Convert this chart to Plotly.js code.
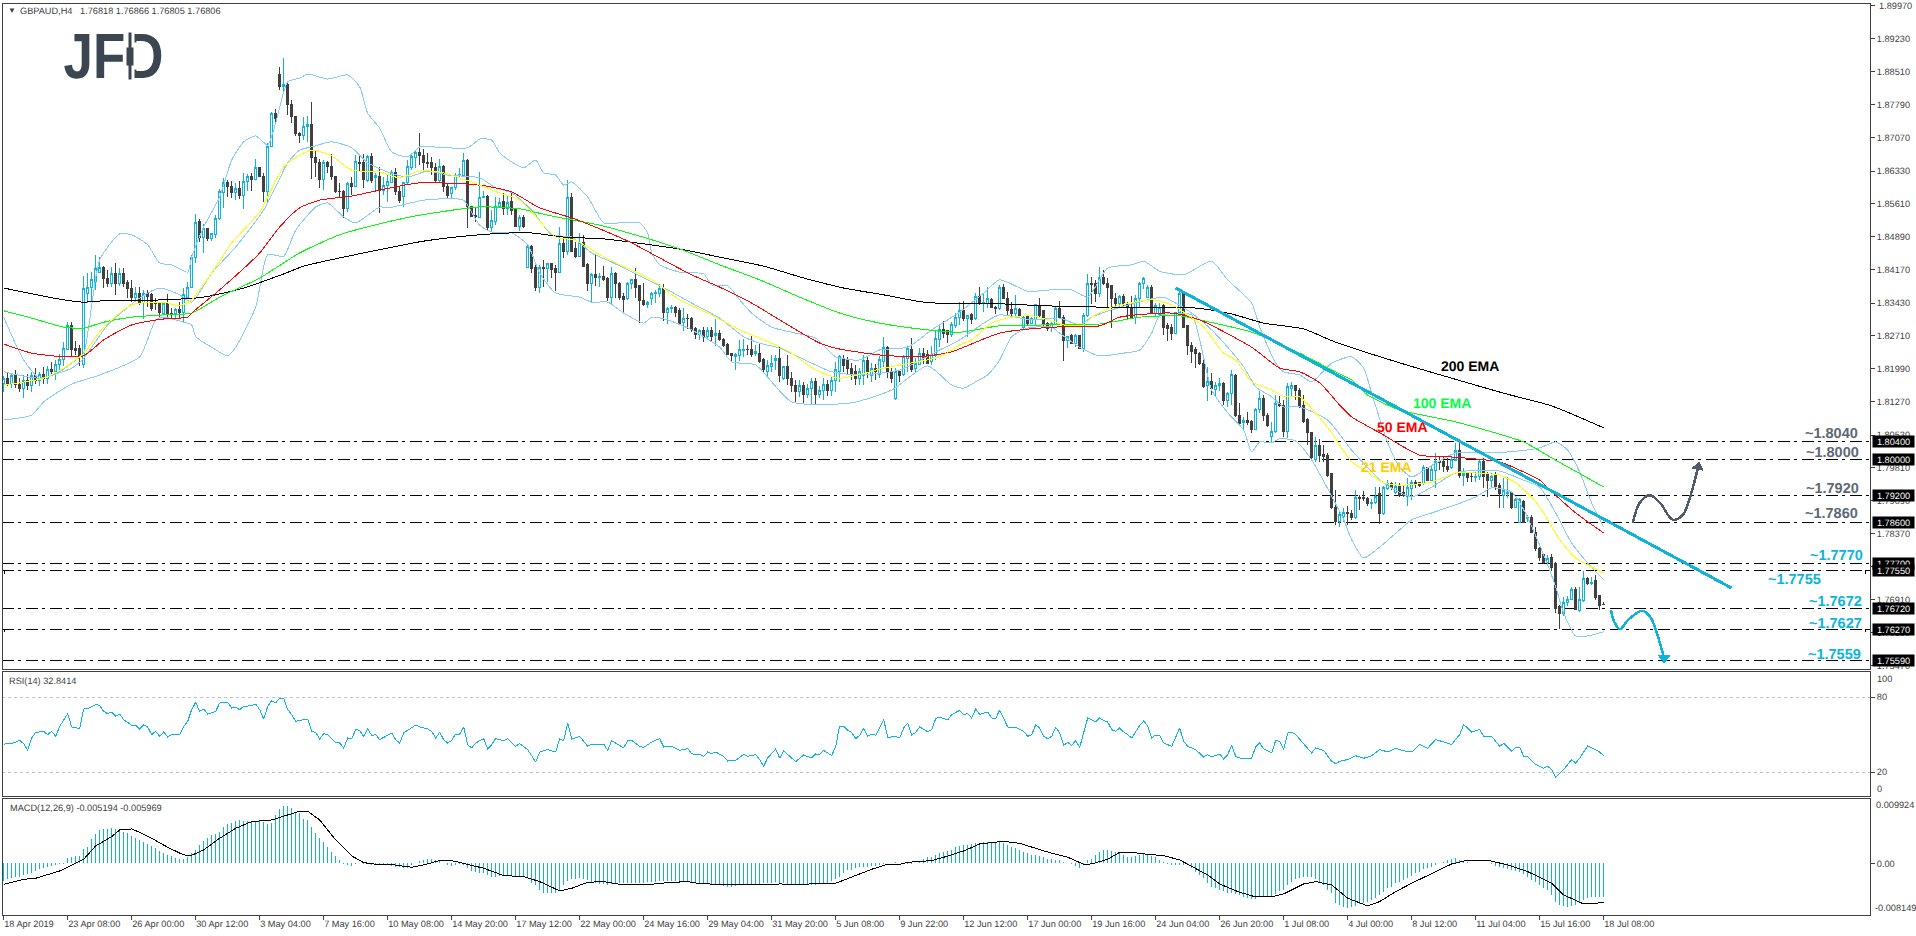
<!DOCTYPE html>
<html><head><meta charset="utf-8">
<script src="https://cdn.plot.ly/plotly-3.0.1.min.js"></script>
<style>html,body{margin:0;padding:0;background:#fff;overflow:hidden}
#chart .cartesianlayer path,#chart .shapelayer path{shape-rendering:crispEdges}
#chart text{text-rendering:geometricPrecision}</style>
</head><body><div id="chart" style="width:1916px;height:936px"></div>
<script>
const open_=[1.8167,1.8178,1.8167,1.8183,1.8165,1.8156,1.8174,1.8161,1.8183,1.8174,1.8187,1.8178,1.8196,1.8192,1.8209,1.8218,1.8242,1.8293,1.8244,1.8244,
1.8207,1.8363,1.8378,1.8391,1.8411,1.8422,1.8398,1.8387,1.8407,1.8385,1.8407,1.8389,1.8374,1.8356,1.8363,1.8345,1.8365,1.8361,1.8345,1.8343,
1.8321,1.8341,1.8321,1.8319,1.8328,1.8323,1.8356,1.8378,1.8444,1.8523,1.8488,1.8506,1.8484,1.8493,1.8528,1.8585,1.8607,1.8598,1.8585,1.8594,
1.8580,1.8609,1.8620,1.8615,1.8640,1.8620,1.8587,1.8686,1.8760,1.8844,1.8818,1.8824,1.8780,1.8752,1.8716,1.8710,1.8730,1.8736,1.8662,1.8651,
1.8615,1.8651,1.8642,1.8620,1.8589,1.8589,1.8550,1.8605,1.8600,1.8651,1.8651,1.8613,1.8664,1.8618,1.8622,1.8591,1.8602,1.8607,1.8629,1.8589,
1.8578,1.8607,1.8640,1.8662,1.8673,1.8668,1.8651,1.8651,1.8640,1.8613,1.8644,1.8600,1.8583,1.8596,1.8624,1.8624,1.8657,1.8554,1.8536,1.8532,
1.8574,1.8578,1.8510,1.8523,1.8554,1.8565,1.8550,1.8565,1.8550,1.8512,1.8532,1.8422,1.8468,1.8422,1.8378,1.8422,1.8418,1.8429,1.8418,1.8411,
1.8473,1.8457,1.8574,1.8462,1.8446,1.8477,1.8427,1.8385,1.8405,1.8400,1.8402,1.8396,1.8356,1.8409,1.8387,1.8358,1.8352,1.8385,1.8394,1.8381,
1.8348,1.8339,1.8354,1.8363,1.8365,1.8376,1.8323,1.8330,1.8334,1.8326,1.8301,1.8310,1.8310,1.8288,1.8275,1.8282,1.8269,1.8282,1.8271,1.8277,
1.8262,1.8251,1.8233,1.8225,1.8227,1.8238,1.8242,1.8242,1.8233,1.8233,1.8218,1.8192,1.8203,1.8216,1.8222,1.8178,1.8203,1.8178,1.8163,1.8148,
1.8161,1.8143,1.8156,1.8170,1.8143,1.8152,1.8165,1.8152,1.8174,1.8192,1.8222,1.8218,1.8200,1.8192,1.8178,1.8185,1.8216,1.8183,1.8200,1.8187,
1.8214,1.8246,1.8192,1.8134,1.8192,1.8187,1.8222,1.8242,1.8200,1.8209,1.8233,1.8231,1.8214,1.8227,1.8264,1.8284,1.8282,1.8273,1.8293,1.8312,
1.8326,1.8310,1.8317,1.8308,1.8358,1.8341,1.8343,1.8350,1.8334,1.8332,1.8378,1.8354,1.8328,1.8321,1.8328,1.8290,1.8315,1.8299,1.8306,1.8337,
1.8326,1.8299,1.8290,1.8297,1.8332,1.8312,1.8260,1.8271,1.8255,1.8271,1.8244,1.8315,1.8387,1.8385,1.8365,1.8400,1.8387,1.8381,1.8354,1.8341,
1.8358,1.8343,1.8334,1.8312,1.8352,1.8387,1.8356,1.8378,1.8321,1.8317,1.8337,1.8293,1.8290,1.8277,1.8323,1.8365,1.8293,1.8249,1.8240,1.8233,
1.8211,1.8161,1.8170,1.8154,1.8163,1.8167,1.8128,1.8145,1.8185,1.8095,1.8080,1.8084,1.8082,1.8066,1.8110,1.8134,1.8097,1.8049,1.8060,1.8123,
1.8119,1.8060,1.8156,1.8161,1.8152,1.8117,1.8088,1.8058,1.8000,1.8031,1.8011,1.8009,1.7968,1.7893,1.7864,1.7875,1.7882,1.7880,1.7871,1.7917,
1.7915,1.7913,1.7902,1.7904,1.7924,1.7880,1.7935,1.7946,1.7928,1.7941,1.7926,1.7919,1.7935,1.7948,1.7948,1.7946,1.7981,1.7954,1.7976,1.7994,
1.7994,1.7985,1.7981,1.7998,1.8020,1.7965,1.7968,1.7963,1.7959,1.7961,1.7994,1.7968,1.7954,1.7965,1.7943,1.7921,1.7924,1.7926,1.7895,1.7862,
1.7908,1.7869,1.7871,1.7840,1.7803,1.7790,1.7774,1.7785,1.7770,1.7676,1.7662,1.7686,1.7693,1.7715,1.7667,1.7689,1.7737,1.7726,1.7733,1.7700,
1.76818];
const close_=[1.8178,1.8167,1.8183,1.8165,1.8156,1.8174,1.8161,1.8183,1.8174,1.8187,1.8178,1.8196,1.8192,1.8209,1.8218,1.8244,1.8293,1.8240,1.8238,1.8227,
1.8374,1.8378,1.8394,1.8418,1.8422,1.8398,1.8385,1.8407,1.8385,1.8407,1.8387,1.8374,1.8356,1.8363,1.8345,1.8365,1.8358,1.8330,1.8341,1.8323,
1.8341,1.8321,1.8319,1.8328,1.8323,1.8361,1.8378,1.8444,1.8521,1.8488,1.8506,1.8484,1.8495,1.8528,1.8587,1.8607,1.8598,1.8585,1.8594,1.8580,
1.8609,1.8620,1.8615,1.8640,1.8620,1.8587,1.8686,1.8760,1.8749,1.8818,1.8824,1.8778,1.8752,1.8716,1.8710,1.8730,1.8736,1.8662,1.8651,1.8615,
1.8651,1.8642,1.8620,1.8587,1.8587,1.8550,1.8605,1.8600,1.8653,1.8649,1.8615,1.8664,1.8613,1.8624,1.8591,1.8602,1.8609,1.8629,1.8589,1.8569,
1.8607,1.8642,1.8664,1.8673,1.8666,1.8651,1.8649,1.8640,1.8613,1.8644,1.8600,1.8580,1.8596,1.8624,1.8626,1.8657,1.8554,1.8534,1.8534,1.8574,
1.8578,1.8510,1.8525,1.8556,1.8563,1.8550,1.8563,1.8547,1.8512,1.8532,1.8512,1.8468,1.8420,1.8378,1.8422,1.8418,1.8429,1.8416,1.8411,1.8473,
1.8457,1.8574,1.8457,1.8446,1.8477,1.8424,1.8385,1.8405,1.8400,1.8402,1.8394,1.8356,1.8409,1.8387,1.8356,1.8350,1.8387,1.8394,1.8378,1.8348,
1.8339,1.8345,1.8363,1.8367,1.8376,1.8323,1.8332,1.8334,1.8323,1.8299,1.8310,1.8308,1.8286,1.8275,1.8282,1.8269,1.8282,1.8269,1.8277,1.8262,
1.8249,1.8231,1.8227,1.8231,1.8240,1.8242,1.8240,1.8231,1.8236,1.8214,1.8196,1.8205,1.8211,1.8222,1.8183,1.8203,1.8178,1.8163,1.8148,1.8161,
1.8143,1.8156,1.8170,1.8143,1.8152,1.8165,1.8152,1.8174,1.8196,1.8225,1.8205,1.8200,1.8187,1.8178,1.8192,1.8216,1.8192,1.8200,1.8192,1.8218,
1.8246,1.8192,1.8178,1.8192,1.8183,1.8225,1.8244,1.8196,1.8211,1.8233,1.8222,1.8211,1.8229,1.8266,1.8284,1.8277,1.8273,1.8295,1.8312,1.8326,
1.8310,1.8315,1.8306,1.8358,1.8341,1.8345,1.8352,1.8334,1.8332,1.8378,1.8354,1.8326,1.8321,1.8330,1.8315,1.8312,1.8299,1.8308,1.8339,1.8315,
1.8297,1.8288,1.8299,1.8332,1.8312,1.8260,1.8269,1.8255,1.8271,1.8244,1.8315,1.8387,1.8383,1.8365,1.8400,1.8385,1.8378,1.8354,1.8341,1.8358,
1.8341,1.8334,1.8312,1.8354,1.8387,1.8398,1.8378,1.8321,1.8337,1.8334,1.8290,1.8288,1.8277,1.8323,1.8365,1.8290,1.8249,1.8236,1.8233,1.8211,
1.8159,1.8170,1.8156,1.8163,1.8167,1.8128,1.8145,1.8187,1.8095,1.8078,1.8084,1.8080,1.8066,1.8110,1.8134,1.8095,1.8073,1.8060,1.8123,1.8117,
1.8060,1.8159,1.8161,1.8150,1.8115,1.8082,1.8058,1.8003,1.8031,1.8009,1.8007,1.7965,1.7893,1.7864,1.7878,1.7882,1.7880,1.7873,1.7917,1.7913,
1.7913,1.7902,1.7906,1.7919,1.7880,1.7937,1.7946,1.7939,1.7941,1.7921,1.7921,1.7939,1.7950,1.7946,1.7943,1.7981,1.7954,1.7978,1.7994,1.7992,
1.7983,1.7978,1.8000,1.8020,1.7965,1.7968,1.7959,1.7961,1.7961,1.7994,1.7961,1.7954,1.7963,1.7941,1.7924,1.7932,1.7926,1.7893,1.7911,1.7911,
1.7862,1.7871,1.7840,1.7803,1.7785,1.7774,1.7783,1.7763,1.7673,1.7662,1.7686,1.7693,1.7715,1.7671,1.7691,1.7737,1.7728,1.7730,1.7697,1.7678,
1.76806];
const high_=[1.8183,1.8192,1.8187,1.8196,1.8178,1.8185,1.8187,1.8192,1.8200,1.8192,1.8203,1.8205,1.8214,1.8218,1.8231,1.8257,1.8301,1.8301,1.8260,1.8251,
1.8402,1.8409,1.8411,1.8449,1.8444,1.8424,1.8416,1.8422,1.8431,1.8420,1.8420,1.8394,1.8394,1.8378,1.8378,1.8372,1.8372,1.8365,1.8354,1.8345,
1.8345,1.8363,1.8332,1.8332,1.8345,1.8376,1.8389,1.8449,1.8539,1.8528,1.8517,1.8508,1.8497,1.8536,1.8594,1.8618,1.8613,1.8611,1.8607,1.8611,
1.8629,1.8627,1.8629,1.8659,1.8640,1.8629,1.8695,1.8763,1.8769,1.8861,1.8881,1.8826,1.8789,1.8754,1.8719,1.8752,1.8754,1.8785,1.8679,1.8659,
1.8657,1.8655,1.8670,1.8622,1.8607,1.8591,1.8609,1.8620,1.8668,1.8670,1.8670,1.8668,1.8673,1.8629,1.8642,1.8620,1.8624,1.8635,1.8640,1.8598,
1.8609,1.8657,1.8673,1.8679,1.8716,1.8681,1.8673,1.8664,1.8651,1.8659,1.8646,1.8607,1.8598,1.8629,1.8640,1.8673,1.8659,1.8556,1.8552,1.8631,
1.8589,1.8580,1.8547,1.8576,1.8574,1.8585,1.8580,1.8587,1.8550,1.8536,1.8536,1.8471,1.8471,1.8427,1.8427,1.8438,1.8431,1.8431,1.8427,1.8510,
1.8488,1.8613,1.8585,1.8477,1.8497,1.8492,1.8431,1.8409,1.8449,1.8409,1.8425,1.8400,1.8422,1.8411,1.8389,1.8365,1.8389,1.8396,1.8420,1.8383,
1.8387,1.8347,1.8367,1.8372,1.8385,1.8385,1.8334,1.8339,1.8336,1.8332,1.8332,1.8319,1.8312,1.8290,1.8286,1.8290,1.8290,1.8290,1.8308,1.8284,
1.8266,1.8255,1.8233,1.8233,1.8262,1.8264,1.8251,1.8271,1.8251,1.8255,1.8222,1.8218,1.8229,1.8229,1.8247,1.8205,1.8229,1.8192,1.8174,1.8174,
1.8170,1.8165,1.8178,1.8178,1.8161,1.8178,1.8174,1.8183,1.8214,1.8229,1.8229,1.8225,1.8211,1.8207,1.8200,1.8229,1.8225,1.8211,1.8209,1.8227,
1.8269,1.8249,1.8200,1.8200,1.8196,1.8229,1.8249,1.8266,1.8222,1.8244,1.8244,1.8240,1.8249,1.8284,1.8295,1.8304,1.8284,1.8301,1.8321,1.8345,
1.8348,1.8317,1.8321,1.8365,1.8378,1.8365,1.8378,1.8354,1.8336,1.8383,1.8385,1.8367,1.8345,1.8361,1.8332,1.8317,1.8317,1.8312,1.8341,1.8354,
1.8328,1.8301,1.8301,1.8336,1.8348,1.8317,1.8269,1.8275,1.8275,1.8273,1.8321,1.8407,1.8400,1.8394,1.8422,1.8416,1.8398,1.8383,1.8365,1.8361,
1.8363,1.8345,1.8358,1.8361,1.8389,1.8400,1.8383,1.8383,1.8343,1.8343,1.8341,1.8299,1.8297,1.8323,1.8367,1.8367,1.8295,1.8257,1.8246,1.8235,
1.8218,1.8203,1.8189,1.8170,1.8178,1.8170,1.8148,1.8196,1.8187,1.8123,1.8093,1.8104,1.8086,1.8112,1.8150,1.8141,1.8101,1.8082,1.8141,1.8139,
1.8130,1.8167,1.8170,1.8163,1.8156,1.8141,1.8091,1.8060,1.8049,1.8045,1.8031,1.8014,1.7970,1.7932,1.7884,1.7893,1.7897,1.7888,1.7932,1.7921,
1.7930,1.7917,1.7913,1.7939,1.7939,1.7941,1.7954,1.7950,1.7950,1.7948,1.7943,1.7959,1.7954,1.7954,1.7950,1.7987,1.7983,1.7985,1.8014,1.8005,
1.8005,1.8003,1.8005,1.8036,1.8038,1.7981,1.7972,1.7970,1.7972,1.7998,1.8003,1.7972,1.7970,1.7972,1.7948,1.7959,1.7961,1.7926,1.7915,1.7915,
1.7911,1.7878,1.7878,1.7851,1.7807,1.7794,1.7790,1.7792,1.7774,1.7680,1.7697,1.7699,1.7719,1.7719,1.7719,1.7754,1.7741,1.7741,1.7746,1.7702,
1.76866];
const low_=[1.8148,1.8161,1.8156,1.8156,1.8148,1.8134,1.8152,1.8148,1.8165,1.8161,1.8165,1.8165,1.8183,1.8174,1.8192,1.8205,1.8242,1.8227,1.8229,1.8205,
1.8200,1.8343,1.8345,1.8372,1.8411,1.8376,1.8378,1.8378,1.8361,1.8380,1.8378,1.8354,1.8345,1.8350,1.8339,1.8308,1.8334,1.8326,1.8328,1.8312,
1.8317,1.8312,1.8310,1.8306,1.8310,1.8299,1.8354,1.8376,1.8431,1.8477,1.8453,1.8480,1.8480,1.8486,1.8525,1.8552,1.8576,1.8574,1.8569,1.8572,
1.8550,1.8589,1.8589,1.8613,1.8620,1.8565,1.8563,1.8686,1.8734,1.8811,1.8807,1.8756,1.8739,1.8710,1.8695,1.8701,1.8697,1.8615,1.8620,1.8596,
1.8591,1.8629,1.8613,1.8585,1.8576,1.8530,1.8543,1.8580,1.8598,1.8631,1.8596,1.8609,1.8607,1.8591,1.8541,1.8580,1.8565,1.8607,1.8580,1.8563,
1.8554,1.8602,1.8635,1.8640,1.8646,1.8635,1.8640,1.8624,1.8609,1.8609,1.8587,1.8572,1.8572,1.8591,1.8620,1.8620,1.8508,1.8532,1.8521,1.8532,
1.8574,1.8501,1.8501,1.8514,1.8552,1.8536,1.8536,1.8536,1.8510,1.8501,1.8508,1.8420,1.8409,1.8369,1.8365,1.8378,1.8389,1.8398,1.8369,1.8409,
1.8442,1.8449,1.8455,1.8442,1.8444,1.8422,1.8369,1.8343,1.8381,1.8378,1.8391,1.8347,1.8341,1.8354,1.8350,1.8323,1.8350,1.8374,1.8354,1.8299,
1.8336,1.8332,1.8339,1.8343,1.8356,1.8304,1.8297,1.8321,1.8312,1.8297,1.8282,1.8286,1.8280,1.8264,1.8262,1.8258,1.8262,1.8258,1.8249,1.8260,
1.8247,1.8229,1.8214,1.8196,1.8216,1.8225,1.8229,1.8225,1.8227,1.8211,1.8192,1.8178,1.8192,1.8196,1.8170,1.8174,1.8163,1.8148,1.8126,1.8137,
1.8121,1.8134,1.8119,1.8121,1.8134,1.8130,1.8139,1.8139,1.8148,1.8170,1.8192,1.8185,1.8174,1.8163,1.8163,1.8163,1.8178,1.8170,1.8174,1.8178,
1.8203,1.8178,1.8167,1.8130,1.8170,1.8183,1.8192,1.8192,1.8192,1.8207,1.8209,1.8209,1.8207,1.8218,1.8246,1.8266,1.8255,1.8268,1.8288,1.8295,
1.8304,1.8268,1.8297,1.8306,1.8339,1.8323,1.8332,1.8332,1.8319,1.8328,1.8352,1.8315,1.8312,1.8312,1.8312,1.8286,1.8295,1.8297,1.8293,1.8312,
1.8290,1.8281,1.8279,1.8295,1.8308,1.8216,1.8244,1.8253,1.8246,1.8242,1.8235,1.8312,1.8341,1.8345,1.8356,1.8382,1.8334,1.8288,1.8332,1.8334,
1.8332,1.8306,1.8310,1.8297,1.8332,1.8374,1.8354,1.8319,1.8312,1.8312,1.8273,1.8260,1.8262,1.8275,1.8317,1.8288,1.8229,1.8211,1.8200,1.8207,
1.8156,1.8128,1.8141,1.8139,1.8150,1.8119,1.8115,1.8119,1.8093,1.8075,1.8066,1.8075,1.8058,1.8064,1.8101,1.8084,1.8071,1.8036,1.8058,1.8115,
1.8049,1.8047,1.8137,1.8130,1.8113,1.8080,1.8031,1.7998,1.7994,1.7994,1.7994,1.7961,1.7891,1.7856,1.7851,1.7862,1.7856,1.7866,1.7869,1.7888,
1.7908,1.7897,1.7891,1.7902,1.7858,1.7878,1.7932,1.7932,1.7924,1.7917,1.7917,1.7897,1.7911,1.7937,1.7939,1.7943,1.7952,1.7952,1.7937,1.7976,
1.7972,1.7972,1.7978,1.8000,1.7959,1.7941,1.7950,1.7950,1.7950,1.7954,1.7937,1.7917,1.7939,1.7932,1.7893,1.7893,1.7915,1.7891,1.7893,1.7862,
1.7860,1.7862,1.7838,1.7798,1.7777,1.7770,1.7765,1.7754,1.7662,1.7627,1.7655,1.7677,1.7691,1.7669,1.7664,1.7686,1.7724,1.7724,1.7691,1.7669,
1.76805];

const ema200X=[0,15,20,25,40,50,60,70,75,85,95,105,119,127,132,140,150,160,170,180,190,200,210,220,230,240,250,260,275,290,298,307,315,325,333,350,362,375,387,400];
const ema200=[1.8376,1.8350,1.8345,1.8348,1.8350,1.8356,1.8376,1.8407,1.8424,1.8444,1.8462,1.8479,1.8493,1.8497,1.8497,1.8488,1.8484,1.8473,1.8460,1.8442,1.8424,1.8398,1.8376,1.8361,1.8345,1.8341,1.8341,1.8337,1.8334,1.8334,1.8332,1.8319,1.8299,1.8286,1.8257,1.8209,1.8178,1.8145,1.8117,1.8069];
const ema100X=[0,7,15,20,25,32,40,47,54,64,74,84,94,104,119,129,136,149,159,169,179,189,199,209,219,229,239,249,262,274,284,294,299,312,324,332,337,341,349,362,374,380,388,400];
const ema100=[1.8326,1.8310,1.8290,1.8288,1.8301,1.8312,1.8317,1.8321,1.8356,1.8398,1.8453,1.8493,1.8517,1.8536,1.8554,1.8550,1.8536,1.8514,1.8490,1.8462,1.8427,1.8394,1.8356,1.8321,1.8299,1.8286,1.8279,1.8293,1.8295,1.8297,1.8312,1.8315,1.8306,1.8279,1.8233,1.8196,1.8174,1.8141,1.8108,1.8084,1.8055,1.8038,1.7998,1.7939];
const ema50X=[0,7,15,20,25,32,40,46,47,54,64,69,74,79,87,94,104,119,127,134,142,149,157,164,172,179,187,194,204,209,219,229,237,249,262,274,279,292,299,312,319,324,329,334,337,344,354,362,374,380,384,388,393,400];
const ema50=[1.8253,1.8233,1.8225,1.8227,1.8262,1.8295,1.8308,1.8312,1.8321,1.8372,1.8453,1.8510,1.8552,1.8569,1.8578,1.8591,1.8607,1.8602,1.8587,1.8552,1.8530,1.8506,1.8475,1.8442,1.8405,1.8378,1.8343,1.8306,1.8255,1.8242,1.8229,1.8225,1.8236,1.8277,1.8290,1.8293,1.8312,1.8321,1.8306,1.8246,1.8200,1.8192,1.8168,1.8119,1.8093,1.8058,1.8009,1.8005,1.7994,1.7972,1.7954,1.7921,1.7882,1.7838];
const ema21X=[0,10,15,20,25,32,40,44,47,53,57,64,70,74,77,82,87,94,99,104,109,117,119,124,129,132,138,143,149,154,162,169,177,184,192,197,203,209,220,234,239,242,247,252,257,262,265,270,272,277,287,292,295,300,305,308,312,317,320,324,329,332,337,341,345,349,357,363,367,374,378,382,385,389,393,397,400];
const ema21=[1.8163,1.8178,1.8200,1.8233,1.8290,1.8339,1.8345,1.8337,1.8350,1.8422,1.8475,1.8543,1.8642,1.8668,1.8679,1.8666,1.8635,1.8631,1.8618,1.8633,1.8631,1.8609,1.8602,1.8585,1.8569,1.8543,1.8488,1.8481,1.8449,1.8427,1.8394,1.8350,1.8317,1.8284,1.8255,1.8233,1.8196,1.8178,1.8200,1.8225,1.8251,1.8262,1.8299,1.8312,1.8315,1.8304,1.8295,1.8295,1.8312,1.8334,1.8350,1.8339,1.8323,1.8290,1.8233,1.8218,1.8170,1.8152,1.8137,1.8137,1.8091,1.8058,1.7994,1.7972,1.7948,1.7943,1.7950,1.7970,1.7970,1.7965,1.7948,1.7917,1.7882,1.7823,1.7783,1.7763,1.7750];

const bbUpperX=[0,5,9,14,18,20,24,29,32,36,39,42,46,47,50,54,57,60,63,66,68,71,74,76,81,86,89,91,94,97,101,104,107,116,119,122,124,127,130,133,135,138,140,142,146,150,154,159,161,162,164,169,175,177,181,184,187,192,198,203,208,214,219,226,232,239,245,249,256,262,267,271,276,282,285,289,295,302,306,312,314,318,320,324,327,332,337,340,342,346,349,352,356,363,369,376,384,388,391,394,397,400];
const bbUpper=[1.8312,1.8218,1.8178,1.8192,1.8218,1.8233,1.8438,1.8495,1.8493,1.8471,1.8431,1.8427,1.8411,1.8444,1.8510,1.8576,1.8657,1.8697,1.8710,1.8690,1.8738,1.8829,1.8837,1.8846,1.8835,1.8844,1.8818,1.8760,1.8727,1.8675,1.8664,1.8686,1.8686,1.8684,1.8703,1.8701,1.8673,1.8653,1.8640,1.8657,1.8629,1.8624,1.8602,1.8609,1.8576,1.8519,1.8519,1.8519,1.8497,1.8453,1.8427,1.8411,1.8407,1.8383,1.8381,1.8350,1.8321,1.8290,1.8277,1.8266,1.8225,1.8218,1.8240,1.8246,1.8284,1.8323,1.8365,1.8394,1.8369,1.8372,1.8372,1.8356,1.8420,1.8427,1.8435,1.8413,1.8405,1.8435,1.8394,1.8343,1.8290,1.8211,1.8192,1.8185,1.8170,1.8211,1.8225,1.8200,1.8145,1.8036,1.7983,1.7961,1.7981,1.8014,1.8014,1.8016,1.8025,1.8038,1.8020,1.7972,1.7904,1.7851];
const bbMiddleX=[0,9,17,20,26,34,39,44,47,52,58,65,68,71,74,77,82,87,91,96,101,106,111,119,123,127,132,137,142,147,152,161,166,172,179,185,189,194,202,207,214,224,234,239,245,249,257,264,269,272,277,286,290,293,297,302,306,310,313,317,320,324,331,337,345,352,357,363,369,374,380,384,388,392,396,400];
const bbMiddle=[1.8192,1.8178,1.8200,1.8222,1.8295,1.8354,1.8376,1.8361,1.8345,1.8409,1.8466,1.8547,1.8598,1.8651,1.8679,1.8686,1.8697,1.8684,1.8651,1.8631,1.8620,1.8633,1.8624,1.8618,1.8596,1.8585,1.8547,1.8493,1.8488,1.8453,1.8433,1.8394,1.8372,1.8343,1.8310,1.8269,1.8255,1.8244,1.8211,1.8192,1.8185,1.8196,1.8240,1.8262,1.8299,1.8317,1.8306,1.8310,1.8295,1.8312,1.8328,1.8350,1.8356,1.8343,1.8321,1.8284,1.8246,1.8203,1.8159,1.8137,1.8115,1.8115,1.8086,1.8020,1.7948,1.7917,1.7939,1.7970,1.7976,1.7974,1.7954,1.7939,1.7882,1.7816,1.7772,1.7735];
const bbLowerX=[0,7,10,17,24,34,38,40,45,47,48,52,56,58,63,66,70,73,78,81,85,88,94,96,105,111,115,119,122,127,131,134,138,144,147,151,155,160,162,166,172,179,182,188,197,212,222,231,237,240,243,246,249,252,256,262,264,269,274,280,284,287,289,297,299,302,306,310,312,314,317,319,323,327,335,337,340,344,349,352,357,363,368,372,377,380,385,388,390,393,396,400];
const bbLower=[1.8086,1.8097,1.8126,1.8165,1.8185,1.8225,1.8306,1.8312,1.8301,1.8295,1.8269,1.8246,1.8227,1.8246,1.8334,1.8449,1.8446,1.8503,1.8554,1.8563,1.8532,1.8519,1.8554,1.8552,1.8569,1.8572,1.8569,1.8514,1.8499,1.8497,1.8471,1.8409,1.8365,1.8356,1.8345,1.8345,1.8321,1.8299,1.8312,1.8306,1.8284,1.8246,1.8214,1.8207,1.8126,1.8124,1.8152,1.8205,1.8163,1.8156,1.8170,1.8185,1.8218,1.8269,1.8288,1.8290,1.8277,1.8246,1.8227,1.8233,1.8240,1.8277,1.8315,1.8317,1.8262,1.8152,1.8102,1.8064,1.8016,1.8038,1.8036,1.8045,1.8040,1.7998,1.7867,1.7823,1.7783,1.7807,1.7845,1.7867,1.7882,1.7900,1.7917,1.7937,1.7928,1.7889,1.7790,1.7720,1.7662,1.7612,1.7612,1.7621];

const rsiX=[0,1,2,4,5,6,7,8,10,11,12,13,14,16,17,19,20,21,23,24,25,26,27,28,29,30,32,33,34,35,36,37,38,39,40,41,42,44,45,46,47,48,49,50,51,53,54,56,57,58,59,60,62,63,64,65,66,67,68,69,70,71,72,73,75,76,77,78,79,80,81,83,84,85,86,87,88,89,90,91,92,93,94,95,97,98,99,100,102,103,104,106,107,108,109,110,111,112,113,114,115,116,117,118,120,121,122,123,125,126,128,129,131,133,134,136,138,139,140,141,142,144,146,147,150,151,152,153,155,156,157,159,
160,162,164,165,166,167,169,171,172,173,174,175,176,177,178,180,181,183,185,186,188,189,190,191,193,194,195,197,198,200,202,203,204,205,207,208,209,210,211,212,213,214,215,216,217,218,220,221,223,224,225,226,227,228,229,231,232,233,234,236,237,239,240,241,242,243,244,246,247,248,249,251,253,255,256,257,258,259,260,261,262,263,264,265,266,267,268,269,271,273,274,275,276,277,278,279,280,281,282,284,285,286,287,288,289,290,292,294,295,296,298,300,301,302,304,305,306,307,308,309,312,313,314,315,317,318,319,320,321,322,323,327,328,330,332,333,334,
336,338,340,342,344,346,348,350,352,354,356,358,360,362,364,365,367,369,370,372,374,375,377,378,379,380,381,383,385,386,387,388,390,392,393,394,396,398,399,400];
const rsi=[41.9,43.2,42.7,45.3,42.7,37.3,47.2,51.7,52.5,49.9,52.5,48.5,56.5,66.7,56,54.7,70.4,70.7,73.9,73.3,68.5,66.7,68,64.5,66.4,61.9,57.3,57.6,54.4,57.9,56,49.9,52.5,48.5,52,48,49.9,49.9,56.5,60.5,69.9,75.7,68.5,70.4,66.4,68.5,75.2,75.7,71.2,71.7,69.9,72.5,73.1,74.4,69.9,62.4,72.5,77.1,75.2,79.2,79.2,69.9,65.9,60.5,61.9,62.4,52.5,51.7,46.4,50.7,49.9,43.7,43.2,39.2,47.2,46.4,53.9,53.3,48.5,54.4,49.3,49.9,45.9,47.7,51.2,45.9,43.2,51.2,55.7,57.6,56,54.4,52.5,47.2,51.7,45.9,43.2,45.3,50.4,50.4,56,41.9,39.2,43.2,46.7,38.4,41.9,46.7,45.1,46.7,40.5,42.7,37.9,28,36,37.9,36,46.4,45.1,59.2,46.4,48.5,40.5,42.4,42.4,37.3,45.1,43.2,39.2,45.1,45.3,40.5,
39.7,44,46.7,40,40.8,40.5,37.3,38.7,34.7,33.9,34.4,32.5,36,34.7,36,32.5,28.8,29.3,34.1,32.5,33.9,29.9,24.5,31.2,38.4,31.2,36.8,31.2,28.3,33.6,31.2,34.4,33.9,37.3,33.1,40.5,56.8,56.8,53.3,51.7,46.7,49.3,54.9,48.5,50.4,49.3,61.9,47.7,48.5,47.2,55.2,59.2,49.6,51.7,56,52.3,53.9,62.7,64,61.6,65.9,69.3,65.9,66.7,63.2,70.4,66.1,68,63.2,62.7,69.6,56,55.7,52.5,48.5,49.9,57.6,55.2,48.5,46.7,48.5,55.7,51.2,41.3,43.7,41.3,45.1,39.7,63.2,60,63.2,61.1,60,53.9,52.5,55.2,52,49.9,47.2,57.1,60.8,57.1,47.2,49.6,49.6,43.2,40.5,55.2,44.5,40.5,37.9,32,33.9,32,34.4,30.4,33.9,41.3,32.5,31.2,31.2,40,43.2,38.4,35.2,45.3,44.5,37.9,51.2,52,49.9,35.2,39.2,37.3,28.5,26.7,28.5,
30,33,31,33,38,36,39,37,36,42,39,46,44,42,50,58,52,54,48.5,48.5,40.5,43,36.5,40,40,32.5,32.5,26,23,24.5,22,16,22,30,27,31,41,38,36,32.84];

const macdHist=[-0.00265,-0.00244,-0.00229,-0.00214,-0.00204,-0.00183,-0.00163,-0.00143,-0.00117,-0.00092,-0.00076,-0.00061,-0.00041,-0.00025,-0.00015,-0.00010,
0.00087,0.00102,0.00112,0.00117,0.00214,0.00244,0.00372,0.00448,0.00509,0.00519,0.00524,0.00534,0.00524,0.00519,0.00484,0.00458,0.00417,0.00382,0.00356,0.00326,0.00295,0.00265,0.00229,0.00193,0.00163,0.00127,0.00112,0.00087,0.00066,0.00061,0.00092,0.00153,0.00204,0.00280,0.00346,0.00392,0.00433,0.00448,0.00484,0.00550,0.00596,0.00621,0.00652,0.00662,0.00652,0.00652,0.00652,0.00646,0.00652,0.00636,0.00601,0.00621,0.00738,0.00825,0.00875,0.00875,0.00840,0.00789,0.00764,0.00672,0.00662,0.00550,0.00458,0.00382,0.00331,0.00244,0.00178,0.00112,0.00051,-0.00010,-0.00025,-0.00036,-0.00015,0,-0.00005,
-0.00015,-0.00020,-0.00025,-0.00020,-0.00020,-0.00015,-0.00036,-0.00051,-0.00061,-0.00076,-0.00066,-0.00025,0,0.00041,0.00051,0.00061,0.00061,0.00051,0.00041,0,-0.00025,-0.00036,-0.00025,-0.00010,-0.00025,-0.00076,-0.00112,-0.00127,-0.00143,-0.00153,-0.00178,-0.00214,-0.00204,-0.00193,-0.00188,-0.00183,-0.00178,-0.00193,-0.00204,-0.00214,-0.00229,-0.00305,-0.00331,-0.00407,-0.00448,-0.00448,-0.00453,-0.00448,-0.00407,-0.00331,-0.00265,-0.00244,-0.00234,-0.00229,-0.00244,-0.00255,-0.00280,-0.00305,-0.00316,-0.00321,-0.00331,-0.00316,-0.00305,-0.00305,-0.00305,-0.00305,-0.00305,-0.00305,-0.00305,-0.00295,-0.00285,-0.00280,-0.00280,-0.00270,-0.00270,-0.00270,-0.00270,-0.00275,-0.00280,-0.00280,-0.00280,-0.00290,-0.00295,-0.00305,-0.00305,-0.00316,-0.00316,-0.00331,-0.00331,-0.00341,-0.00356,-0.00361,-0.00346,-0.00336,-0.00331,-0.00331,-0.00326,-0.00321,-0.00316,-0.00305,-0.00300,-0.00295,-0.00290,-0.00295,-0.00305,-0.00316,-0.00326,-0.00331,
-0.00331,-0.00331,-0.00331,-0.00331,-0.00326,-0.00321,-0.00316,-0.00305,-0.00270,-0.00239,-0.00204,-0.00153,-0.00102,-0.00102,-0.00076,-0.00061,-0.00051,-0.00051,-0.00041,-0.00036,-0.00025,-0.00015,0,0.00010,0.00015,0.00010,0.00005,-0.00005,-0.00010,0.00010,
0.00041,0.00061,0.00092,0.00102,0.00127,0.00153,0.00168,0.00188,0.00204,0.00244,0.00265,0.00275,0.00285,0.00295,0.00316,0.00316,0.00321,0.00321,0.00326,0.00326,0.00326,0.00305,0.00285,0.00255,0.00229,0.00204,0.00178,0.00153,0.00127,0.00127,0.00117,0.00092,0.00066,0.00061,0.00051,0.00051,0.00025,0.00010,-0.00010,-0.00041,-0.00066,-0.00015,0.00051,0.00071,0.00127,0.00178,0.00204,0.00204,0.00188,0.00178,0.00153,0.00127,0.00102,0.00102,0.00112,0.00127,0.00143,0.00132,0.00112,0.00092,0.00051,0.00025,-0.00010,-0.00025,-0.00025,-0.00025,-0.00025,-0.00025,-0.00076,-0.00127,-0.00178,-0.00229,-0.00295,-0.00356,-0.00382,-0.00407,-0.00428,-0.00448,-0.00458,-0.00473,-0.00489,-0.00509,-0.00534,-0.00545,-0.00550,-0.00509,-0.00499,-0.00499,-0.00499,-0.00468,-0.00417,-0.00407,-0.00331,-0.00280,-0.00244,-0.00219,-0.00204,-0.00204,-0.00204,-0.00244,-0.00280,-0.00331,-0.00407,-0.00448,-0.00611,-0.00636,-0.00672,-0.00687,-0.00672,-0.00652,-0.00626,-0.00601,-0.00585,-0.00560,-0.00534,-0.00484,-0.00433,-0.00382,-0.00356,-0.00305,-0.00280,-0.00255,-0.00229,-0.00193,-0.00153,-0.00127,-0.00092,-0.00076,-0.00051,-0.00025,0,0.00015,0.00051,0.00061,0.00076,0.00051,0.00025,0.00015,0.00010,0,0,0.00010,0,-0.00015,-0.00041,-0.00061,-0.00076,-0.00092,-0.00102,-0.00112,-0.00127,-0.00163,-0.00204,-0.00255,-0.00280,-0.00331,-0.00382,-0.00407,-0.00484,-0.00585,-0.00636,-0.00652,-0.00662,-0.00652,-0.00636,-0.00601,-0.00560,-0.00534,-0.00519,-0.00509,-0.00509,-0.00519];
const macdSignalX=[0,3,5,8,11,14,16,20,23,27,29,32,34,37,41,45,47,50,54,58,62,67,71,74,76,79,83,87,90,93,97,102,105,109,112,116,120,125,130,134,139,142,146,150,154,162,166,171,174,182,190,194,198,199,208,212,217,221,224,226,232,235,240,244,250,254,259,262,266,270,272,276,279,282,286,290,294,297,301,304,309,313,317,320,325,328,332,336,341,344,348,352,357,362,366,371,376,381,387,390,395,398,399,400];
const macdSignal=[-0.00321,-0.00280,-0.00244,-0.00229,-0.00178,-0.00117,-0.00061,0.00061,0.00265,0.00407,0.00509,0.00524,0.00473,0.00382,0.00244,0.00127,0.00122,0.00204,0.00382,0.00534,0.00636,0.00662,0.00738,0.00794,0.00794,0.00662,0.00356,0.00112,0.00010,-0.00015,-0.00020,-0.00061,-0.00025,0.00041,0.00041,-0.00015,-0.00076,-0.00188,-0.00204,-0.00280,-0.00422,-0.00382,-0.00290,-0.00280,-0.00321,-0.00321,-0.00295,-0.00280,-0.00310,-0.00331,-0.00331,-0.00316,-0.00321,-0.00321,-0.00305,-0.00214,-0.00092,-0.00015,-0.00015,0.00015,0.00041,0.00092,0.00188,0.00295,0.00336,0.00305,0.00204,0.00153,0.00092,-0.00015,-0.00010,0.00061,0.00168,0.00168,0.00137,0.00117,0.00051,-0.00051,-0.00178,-0.00316,-0.00443,-0.00514,-0.00514,-0.00468,-0.00316,-0.00280,-0.00331,-0.00534,-0.00652,-0.00585,-0.00433,-0.00305,-0.00153,-0.00010,0.00046,0.00046,-0.00025,-0.00127,-0.00305,-0.00484,-0.00621,-0.00621,-0.00596,-0.00597];

const priceTicks=[1.8997,1.8923,1.8851,1.8779,1.8707,1.8633,1.8561,1.8489,1.8417,1.8343,1.8271,1.8199,1.8127,1.8053,1.7981,1.7909,1.7837,1.7765,1.7691,1.7619,1.7547];
const timeLabels=["18 Apr 2019","23 Apr 08:00","26 Apr 00:00","30 Apr 12:00","3 May 04:00","7 May 16:00","10 May 08:00","14 May 20:00","17 May 12:00","22 May 00:00","24 May 16:00","29 May 04:00","31 May 20:00","5 Jun 08:00","9 Jun 22:00","12 Jun 12:00","17 Jun 00:00","19 Jun 16:00","24 Jun 04:00","26 Jun 20:00","1 Jul 08:00","4 Jul 00:00","8 Jul 12:00","11 Jul 04:00","15 Jul 16:00","18 Jul 08:00"];
const timeTicks=[0,16,32,48,64,80,96,112,128,144,160,176,192,208,224,240,256,272,288,304,320,336,352,368,384,400];
const levels=[1.8040,1.8000,1.7920,1.7860,1.7770,1.7755,1.7672,1.7627,1.7559];
const levelBoxes=["1.80400","1.80000","1.79200","1.78600","1.77700","1.77550","1.76720","1.76270","1.75590"];
const trendX=[293,432], trendY=[1.8376,1.7717];
const waveUpX=[407.3,409,411.6,414.1,417.3,419.8,422.1,423.6];
const waveUpY=[1.7860,1.7904,1.7921,1.7904,1.7867,1.7878,1.7932,1.7983];
const waveDownX=[401.8,402.8,404.1,406.1,409.6,411.6,413.3,415.1];
const waveDownY=[1.7669,1.7640,1.7627,1.7647,1.7667,1.7654,1.7618,1.7563];

const idx=open_.map((_,i)=>i);
const CY='#0cb4dc',DK='#404040',BB='#87cbf7',FONT='"Liberation Sans",Arial,sans-serif',FS=9.2;
const L=2,R=1870,T=3,B=915;
const px=x=>(x-L)/(R-L), py=y=>(B-y)/(B-T);
function line(x,y,color,width,extra){return Object.assign({type:'scatter',mode:'lines',x,y,line:{color,width},hoverinfo:'skip',showlegend:false,xaxis:'x',yaxis:'y'},extra||{});}
const smooth=(x,y,c)=>line(x,y,c,1,{line:{color:c,width:1,shape:'spline',smoothing:0.6}});

const traces=[
 {type:'candlestick',x:idx,open:open_,high:high_,low:low_,close:close_,xaxis:'x',yaxis:'y',showlegend:false,hoverinfo:'skip',whiskerwidth:0,
  increasing:{line:{color:CY,width:1},fillcolor:'#ffffff'},decreasing:{line:{color:DK,width:1},fillcolor:DK}},
 smooth(bbUpperX,bbUpper,BB),smooth(bbMiddleX,bbMiddle,BB),smooth(bbLowerX,bbLower,BB),
 smooth(ema200X,ema200,'#000000'),smooth(ema100X,ema100,'#00ff00'),smooth(ema50X,ema50,'#ff0000'),smooth(ema21X,ema21,'#ffff00'),
 line(trendX,trendY,CY,3),
 line(waveUpX,waveUpY,'#4f5d6b',2.5,{line:{color:'#4f5d6b',width:2.5,shape:'spline',smoothing:1}}),
 {type:'scatter',mode:'markers',x:[waveUpX[7]],y:[waveUpY[7]],marker:{symbol:'triangle-up',size:11,color:'#4f5d6b',angle:12},xaxis:'x',yaxis:'y',hoverinfo:'skip',showlegend:false},
 line(waveDownX,waveDownY,CY,2.5,{line:{color:CY,width:2.5,shape:'spline',smoothing:1}}),
 {type:'scatter',mode:'markers',x:[waveDownX[7]],y:[waveDownY[7]],marker:{symbol:'triangle-down',size:11,color:CY},xaxis:'x',yaxis:'y',hoverinfo:'skip',showlegend:false},
 line(rsiX,rsi,CY,1,{yaxis:'y2'}),
 {type:'bar',x:idx,y:macdHist,width:0.3,marker:{color:CY,line:{width:0}},xaxis:'x',yaxis:'y3',hoverinfo:'skip',showlegend:false},
 line(macdSignalX,macdSignal,'#000000',1,{yaxis:'y3'})
];

const shapes=[];
levels.forEach(v=>shapes.push({type:'line',xref:'paper',yref:'y',x0:0,x1:1,y0:v,y1:v,layer:'below',line:{color:'#000',width:1,dash:'12px,4px,3px,5px'}}));
[80,20].forEach(v=>shapes.push({type:'line',xref:'paper',yref:'y2',x0:0,x1:1,y0:v,y1:v,layer:'below',line:{color:'#c0c0c0',width:1,dash:'3px,3px'}}));
[[T,669],[671,796],[798,915]].forEach(b=>shapes.push({type:'rect',xref:'paper',yref:'paper',x0:0,x1:1,y0:py(b[1]),y1:py(b[0]),line:{color:'#404040',width:1},fillcolor:'rgba(0,0,0,0)',layer:'above'}));
[1.7755,1.7627].forEach(v=>{
 shapes.push({type:'path',xref:'x',yref:'y',path:`M 0.1 ${v-0.0007} L 0.1 ${v} L 1.2 ${v}`,line:{color:'#000',width:1}});
 shapes.push({type:'path',xref:'x',yref:'y',path:`M 465.5 ${v-0.0007} L 465.5 ${v} L 466.5 ${v}`,line:{color:'#000',width:1}});
});

const ann=[];
function txt(t,x,y,size,color,opt){ann.push(Object.assign({text:t,xref:'paper',yref:'paper',x:px(x),y:py(y),xanchor:'left',yanchor:'middle',showarrow:false,font:{family:FONT,size,color}},opt||{}));}
function block(x0,x1,y0,y1,c){ann.push({text:' ',xref:'paper',yref:'paper',x:px((x0+x1)/2),y:py((y0+y1)/2),xanchor:'center',yanchor:'middle',width:x1-x0,height:y1-y0,borderpad:0,bgcolor:c,showarrow:false,font:{size:1,color:c}});}
txt('▼',6,10.5,8,'#404040');
txt('GBPAUD,H4\u00A0\u00A0\u00A01.76818 1.76866 1.76805 1.76806',18,10.5,FS,'#404040');
txt('<b>JFD</b>',113,56,64,'#3c4650',{xanchor:'center'});
block(126,134,30,82,'#ffffff');block(126,146,43,69,'#ffffff');
block(129,131,33,79,'#3c4650');block(127,133,48,65,'#3c4650');
txt('RSI(14) 32.8414',7,681,FS,'#404040');
txt('MACD(12,26,9) -0.005194 -0.005969',7.5,808,FS,'#404040');
txt('1.89970',1877,6.5,FS,'#404040');
txt('100',1875,679,FS,'#404040');txt('0',1875,789,FS,'#404040');
txt('0.009924',1874,805,FS,'#404040');txt('-0.008149',1873,908,FS,'#404040');
[['<b>200 EMA</b>',1439,366,'#000000'],['<b>100 EMA</b>',1411,403,'#00ff44'],['<b>50 EMA</b>',1375,427,'#ff0000'],['<b>21 EMA</b>',1359,467,'#ffcc00']].forEach(a=>txt(a[0],a[1],a[2],14,a[3]));
const G='#5d6975';
[['~1.8040',1803,433,G],['~1.8000',1804,452,G],['~1.7920',1804,488,G],['~1.7860',1803,513,G],['~1.7770',1808,555,CY],['~1.7755',1766,579,CY],['~1.7672',1807,600.5,CY],['~1.7627',1807,623,CY],['~1.7559',1806,654,CY]].forEach(a=>txt('<b>'+a[0]+'</b>',a[1],a[2],14.5,a[3]));
levels.forEach((v,i)=>ann.push({text:levelBoxes[i],xref:'paper',yref:'y',x:px(1872),y:v,xanchor:'left',yanchor:'middle',showarrow:false,bgcolor:'#000',width:41,height:11,borderpad:0,font:{family:FONT,size:FS,color:'#fff'}}));

const axisCommon={side:'right',anchor:'x',showgrid:false,zeroline:false,showline:false,ticks:'outside',ticklen:4,tickcolor:'#404040',tickfont:{family:FONT,size:FS,color:'#404040'}};
const layout={width:1916,height:936,margin:{l:L,r:1916-R,t:T,b:936-B},paper_bgcolor:'#fff',plot_bgcolor:'#fff',showlegend:false,hovermode:false,barmode:'overlay',
 xaxis:{range:[-0.42,466.58],rangeslider:{visible:false},anchor:'y3',showgrid:false,zeroline:false,showline:false,tickmode:'array',tickvals:timeTicks,ticktext:timeLabels,ticks:'outside',ticklen:4,tickcolor:'#404040',ticklabelposition:'outside right',tickangle:0,tickfont:{family:FONT,size:FS,color:'#404040'}},
 yaxis:Object.assign({},axisCommon,{domain:[(B-669)/(B-T),1],range:[1.75393,1.9002],tickmode:'array',tickvals:priceTicks,ticktext:priceTicks.map((v,i)=>i?v.toFixed(5):'')}),
 yaxis2:Object.assign({},axisCommon,{domain:[(B-796)/(B-T),(B-671)/(B-T)],range:[0.8,100.8],tickmode:'array',tickvals:[80,20],ticktext:['80','20']}),
 yaxis3:Object.assign({},axisCommon,{domain:[0,(B-798)/(B-T)],range:[-0.0079,0.00997],tickmode:'array',tickvals:[0],ticktext:['0.00']}),
 shapes,annotations:ann};
Plotly.newPlot('chart',traces,layout,{staticPlot:true,displayModeBar:false}).then(()=>{
 document.querySelectorAll('#chart text.annotation-text').forEach(t=>{
  if(t.textContent==='JFD'){t.setAttribute('textLength','100');t.setAttribute('lengthAdjust','spacingAndGlyphs');}
 });
});
</script></body></html>
